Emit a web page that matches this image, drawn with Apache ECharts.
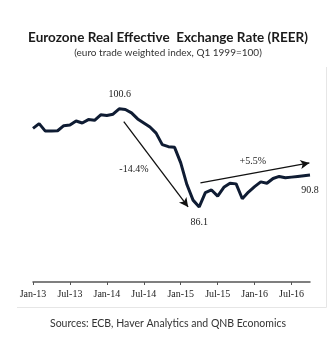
<!DOCTYPE html>
<html>
<head>
<meta charset="utf-8">
<script src="https://cdn.jsdelivr.net/npm/echarts@6/dist/echarts.min.js"></script>
<style>html,body{margin:0;padding:0;background:#fff;}#c{width:336px;height:348px;}</style>
</head>
<body>
<div id="c"></div>
<script>
const months = ['Jan-13','Feb-13','Mar-13','Apr-13','May-13','Jun-13','Jul-13','Aug-13','Sep-13','Oct-13','Nov-13','Dec-13',
  'Jan-14','Feb-14','Mar-14','Apr-14','May-14','Jun-14','Jul-14','Aug-14','Sep-14','Oct-14','Nov-14','Dec-14',
  'Jan-15','Feb-15','Mar-15','Apr-15','May-15','Jun-15','Jul-15','Aug-15','Sep-15','Oct-15','Nov-15','Dec-15',
  'Jan-16','Feb-16','Mar-16','Apr-16','May-16','Jun-16','Jul-16','Aug-16','Sep-16','Oct-16'];
const reer = [97.7,98.4,97.3,97.3,97.35,98.1,98.2,98.8,98.5,99.0,98.9,99.7,
  99.6,99.8,100.6,100.5,100.0,99.1,98.5,97.9,97.0,95.3,95.0,94.9,
  92.6,89.4,87.1,86.1,88.2,88.6,87.7,89.0,89.6,89.5,87.3,88.3,
  89.1,89.8,89.6,90.3,90.6,90.4,90.5,90.6,90.7,90.8];
const tickLabels = ['Jan-13','Jul-13','Jan-14','Jul-14','Jan-15','Jul-15','Jan-16','Jul-16'];
const tickIdx = tickLabels.map(l => months.indexOf(l));
// annotation arrows (index, value)
const downArrow = [[14.75, 98.7], [25.2, 86.1]];
const upArrow = [[27.2, 89.65], [44.9, 92.6]];

const chart = echarts.init(document.getElementById('c'), null, {renderer:'canvas'});
const serif = '"Liberation Serif", "DejaVu Serif", serif';
const data = reer.map((v,i)=>[i,v]);
chart.setOption({
  animation:false,
  title:[
    {text:'Eurozone Real Effective  Exchange Rate (REER)', left:'center', top:26,
     textStyle:{fontFamily:'Lato', fontWeight:'bold', fontSize:13.5, color:'#1a1a1a'}},
    {text:'(euro trade weighted index, Q1 1999=100)', left:'center', top:43,
     textStyle:{fontFamily:'Lato', fontWeight:'normal', fontSize:10, color:'#333'}},
    {text:'Sources: ECB, Haver Analytics and QNB Economics', left:'center', top:313,
     textStyle:{fontFamily:'Lato', fontWeight:'normal', fontSize:10.5, color:'#333'}}
  ],
  grid:{left:33, right:26, top:79, bottom:66},
  xAxis:{type:'value', min:0, max:45,
    axisLine:{show:true, lineStyle:{color:'#555', width:1.5}},
    axisTick:{show:true, customValues:tickIdx, length:3, inside:false, lineStyle:{color:'#555'}},
    axisLabel:{customValues:tickIdx, formatter:v=>months[Math.round(v)], fontFamily:serif, fontSize:10, color:'#222', margin:7},
    splitLine:{show:false}},
  yAxis:{type:'value', min:75, max:105, show:false, splitLine:{show:false}},
  graphic:[
    {type:'line', shape:{x1:326.5, y1:67, x2:326.5, y2:307.5}, style:{stroke:'#e6e6e6', lineWidth:1}},
    {type:'line', shape:{x1:17, y1:307.5, x2:326.5, y2:307.5}, style:{stroke:'#e6e6e6', lineWidth:1}}
  ],
  series:[
    {type:'line', data:data, symbol:'none', lineStyle:{color:'#0f1c33', width:3}, z:3,
     markPoint:{symbol:'circle', symbolSize:0, label:{show:true, fontFamily:serif, fontSize:10, color:'#222'},
       data:[
         {coord:[14.1,100.6], label:{formatter:'100.6', offset:[0,-14]}},
         {coord:[27,86.1], label:{formatter:'86.1', offset:[0,15]}},
         {coord:[45,90.8], label:{formatter:'90.8', offset:[0,15]}},
         {coord:[16.4,91.7], label:{formatter:'-14.4%'}},
         {coord:[35.7,92.9], label:{formatter:'+5.5%'}}
       ]}},
    {type:'line', data:[], markLine:{silent:true, symbol:['none','arrow'], symbolSize:[7,9],
      lineStyle:{color:'#111', width:1.3, type:'solid'}, label:{show:false},
      data:[
        [{coord:downArrow[0]},{coord:downArrow[1]}],
        [{coord:upArrow[0]},{coord:upArrow[1]}]
      ]}}
  ]
});
</script>
</body>
</html>
